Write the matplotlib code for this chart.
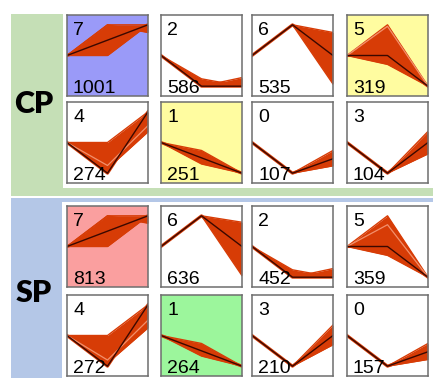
import matplotlib
matplotlib.use('Agg')
import matplotlib.pyplot as plt
from matplotlib.patches import Rectangle

W, H = 436, 383
x3 = [0, 1, 2]

# CP clusters, row by row
cp_ids = [7, 2, 6, 5, 4, 1, 0, 3]
cp_counts = [1001, 586, 535, 319, 274, 251, 107, 104]
cp_bg = ['#9a9af8', 'white', 'white', '#fffca0', 'white', '#fffca0', 'white', 'white']
cp_median = [[0, 0.5, 1], [0, -1, -1], [0, 1, 0], [0, 0, -1],
             [0, -1, 1], [0, -0.5, -1], [0, -1, -0.53], [0, -1, 0]]
cp_profiles = [
    [[0, 1, 1], [0, 0, 1], [0, 1, 0.75]],
    [[0, -0.76, -1], [0, -1, -0.72]],
    [[0, 1, 0.75], [0, 1, -0.93]],
    [[0, 1, -1], [0, -0.29, -1]],
    [[0, 0, 1], [0, -1, 1], [0, -0.85, 0.35]],
    [[0, -0.26, -1], [0, -0.70, -1]],
    [[0, -1, -0.26], [0, -1, -0.76]],
    [[0, -1, 0.36], [0, -1, -0.37]],
]
cp_light = [None, None, None, [0, 0.95, -1], [0, -0.75, 0.55], None, None, None]

# SP clusters, row by row
sp_ids = [7, 6, 2, 5, 4, 1, 3, 0]
sp_counts = [813, 636, 452, 359, 272, 264, 210, 157]
sp_bg = ['#fa9f9f', 'white', 'white', 'white', 'white', '#9cf69c', 'white', 'white']
sp_median = [[0, 0.5, 1], [0, 1, 0], [0, -1, -1], [0, 0, -1],
             [0, -1, 1], [0, -0.5, -1], [0, -1, 0], [0, -1, -0.53]]
sp_profiles = [
    [[0, 1, 1], [0, 0, 1], [0, 1, 0.76]],
    [[0, 1, 0.79], [0, 1, -0.95]],
    [[0, -0.76, -1], [0, -1, -0.72]],
    [[0, 1, -1], [0, -0.29, -1]],
    [[0, 0, 1], [0, -1, 1], [0, -0.9, 0.25]],
    [[0, -0.26, -1], [0, -0.67, -1]],
    [[0, -1, 0.34], [0, -1, -0.30]],
    [[0, -1, -0.26], [0, -1, -0.78]],
]
sp_light = [None, None, None, [0, 0.71, -1], [0, -0.8, 0.5], None, None, None]

RED = '#d73c06'
DARK = '#3a0800'

col_x = [67, 161, 252, 347]
cp_rows = [15, 102]
sp_rows = [206, 295]
PW, PH = 81, 81

fig = plt.figure(figsize=(W / 100, H / 100), dpi=100)
fig.patch.set_facecolor('white')


def box(x, y, w, h, color):
    # x, y in pixels from top-left
    fig.patches.append(Rectangle((x / W, 1 - (y + h) / H), w / W, h / H,
                                 transform=fig.transFigure, color=color, lw=0, zorder=-5))


box(11, 14, 422, 182, '#c5dfb6')
box(63, 14, 370, 174, 'white')
box(11, 198, 422, 180, '#b4c7e7')
box(62, 202, 371, 176, 'white')

fig.text(34 / W, 1 - 104 / H, 'CP', family=['Lato', 'DejaVu Sans'], weight='heavy',
         fontsize=22, ha='center', va='center')
fig.text(34 / W, 1 - 293 / H, 'SP', family=['Lato', 'DejaVu Sans'], weight='heavy',
         fontsize=22, ha='center', va='center')


def panel(px, py, cid, count, bg, med, profs, light):
    ax = fig.add_axes([px / W, 1 - (py + PH) / H, PW / W, PH / H])
    ax.set_facecolor(bg)
    for p in profs:
        ax.fill_between(x3, med, p, color=RED, lw=0, interpolate=True)
        ax.plot(x3, p, color=RED, lw=1.0)
    ax.plot(x3, med, color=RED, lw=2.2)
    if light is not None:
        ax.plot(x3, light, color='#f2906c', lw=0.9)
    ax.plot(x3, med, color=DARK, lw=1.0)
    ax.set_xlim(0, 2)
    ax.set_ylim(-1.32, 1.32)
    ax.set_xticks([])
    ax.set_yticks([])
    for s in ax.spines.values():
        s.set_color('#6e6e6e')
        s.set_linewidth(1.1)
    ax.text(6 / PW, 1 - 20 / PH, str(cid), transform=ax.transAxes, fontsize=14,
            family='Liberation Sans', va='baseline', ha='left', zorder=10)
    ax.text(6 / PW, 3 / PH, str(count), transform=ax.transAxes, fontsize=14,
            family='Liberation Sans', va='baseline', ha='left', zorder=10)


for i in range(8):
    panel(col_x[i % 4], cp_rows[i // 4], cp_ids[i], cp_counts[i], cp_bg[i],
          cp_median[i], cp_profiles[i], cp_light[i])
    panel(col_x[i % 4], sp_rows[i // 4], sp_ids[i], sp_counts[i], sp_bg[i],
          sp_median[i], sp_profiles[i], sp_light[i])

fig.savefig('out.png', dpi=100)
